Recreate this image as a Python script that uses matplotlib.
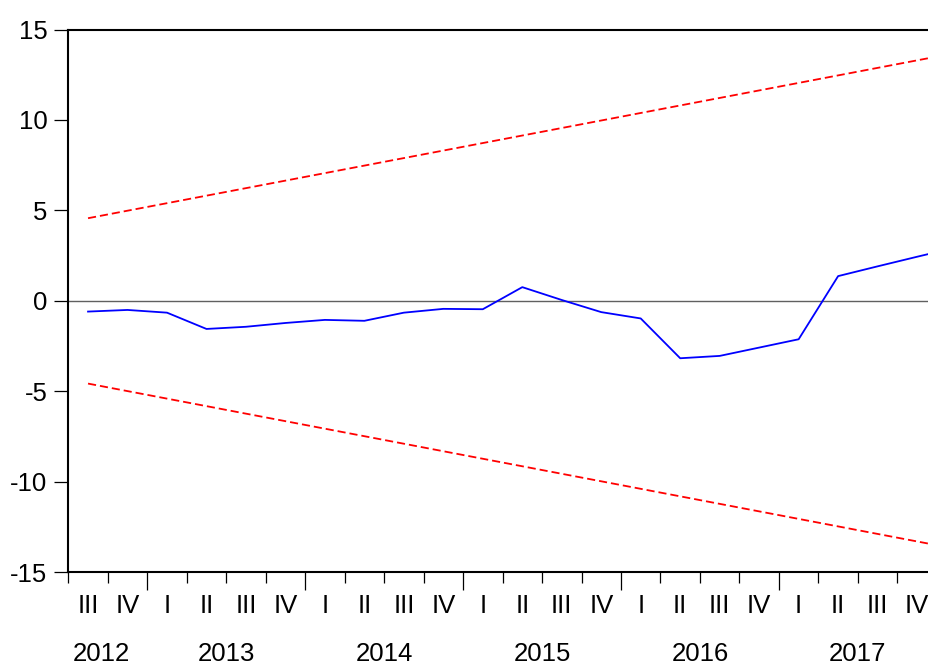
import matplotlib.pyplot as plt
import matplotlib.transforms as mtransforms
import numpy as np

plt.rcParams['font.family'] = ['Liberation Sans', 'DejaVu Sans']

# quarterly CUSUM, 2012Q3 .. 2018Q1
quarters = ['III', 'IV',
            'I', 'II', 'III', 'IV',
            'I', 'II', 'III', 'IV',
            'I', 'II', 'III', 'IV',
            'I', 'II', 'III', 'IV',
            'I', 'II', 'III', 'IV',
            'I']
years = ['2012', '2013', '2014', '2015', '2016', '2017']
cusum = [-0.59, -0.50,
         -0.65, -1.55, -1.43, -1.22,
         -1.05, -1.10, -0.65, -0.44,
         -0.46, 0.76, 0.05, -0.62,
         -0.97, -3.17, -3.04, -2.58,
         -2.12, 1.37, 1.91, 2.44,
         2.96]
# 5% significance bounds at first and last observation
bound_start = 4.57
bound_end = 13.71

n = len(cusum)
x = np.arange(n) + 0.5
xb = [x[0], x[-1]]
fs = 18.5

fig = plt.figure(figsize=(9.29, 6.66), dpi=100)
ax = fig.add_axes([68.3 / 929, 93.7 / 666, 908 / 929, 542.8 / 666])

ax.axhline(0, color='#606060', lw=1.0, zorder=1)
ax.plot(x, cusum, color='#0000ff', lw=1.3, zorder=3)
ax.plot(xb, [bound_start, bound_end], color='#ff0000', lw=1.3,
        dashes=(4.5, 2.2), zorder=2)
ax.plot(xb, [-bound_start, -bound_end], color='#ff0000', lw=1.3,
        dashes=(4.5, 2.2), zorder=2)

ax.set_xlim(0, n)
ax.set_ylim(-15, 15)

for side in ['left', 'top', 'bottom']:
    ax.spines[side].set_linewidth(1.5)
    ax.spines[side].set_color('black')
ax.spines['right'].set_visible(False)

yt = [-15, -10, -5, 0, 5, 10, 15]
ax.set_yticks(yt)
ax.set_yticklabels([str(v) for v in yt], fontsize=fs)
ax.tick_params(axis='y', direction='out', length=10, width=0.9, pad=5)

# quarter boundaries as small ticks, year starts as long ticks
year_starts = [i for i, q in enumerate(quarters) if q == 'I']
minor = [i for i in range(n + 1) if i not in year_starts]
ax.set_xticks(year_starts)
ax.set_xticklabels([])
ax.set_xticks(minor, minor=True)
ax.tick_params(axis='x', which='major', direction='out', length=13, width=0.9)
ax.tick_params(axis='x', which='minor', direction='out', length=8, width=0.9)

trans = mtransforms.blended_transform_factory(ax.transData, fig.transFigure)
for xi, q in zip(x[:-1], quarters[:-1]):
    fig.text(xi, 1 - 606 / 666, q, transform=trans, ha='center', va='center',
             fontsize=fs)

edges = [0] + year_starts
year_mid = [(edges[i] + edges[i + 1]) / 2 for i in range(len(years))]
year_mid[0] = 0.85
for xm, yr in zip(year_mid, years):
    fig.text(xm, 1 - 654 / 666, yr, transform=trans, ha='center', va='center',
             fontsize=fs)

fig.savefig('out.png', dpi=100)
